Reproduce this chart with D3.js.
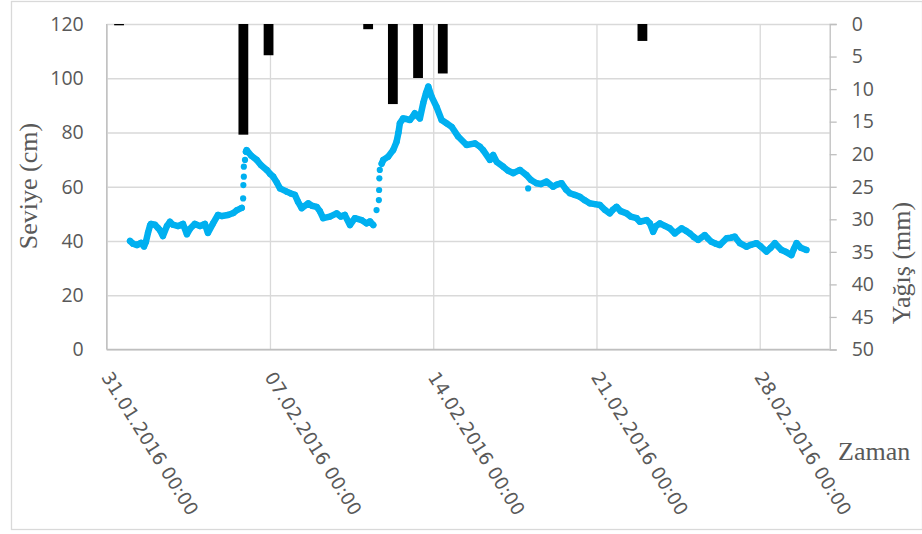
<!DOCTYPE html>
<html>
<head>
<meta charset="utf-8">
<script src="https://cdn.jsdelivr.net/npm/d3@7"></script>
<style>
  body { margin: 0; background: #fff; }
  svg { display: block; }
</style>
</head>
<body>
<svg id="chart"></svg>
<script>
var W = 922, H = 534;

// times are days after 31.01.2016 00:00
var startDate = new Date(2016, 0, 31);
var endDate = new Date(2016, 2, 2);
var dateTickLabels = ["31.01.2016 00:00", "07.02.2016 00:00", "14.02.2016 00:00", "21.02.2016 00:00", "28.02.2016 00:00"];
var levelTicks = [0, 20, 40, 60, 80, 100, 120];
var rainTicks = [0, 5, 10, 15, 20, 25, 30, 35, 40, 45, 50];

// rainfall (mm)
var rainDay = [0.53, 5.86, 6.94, 11.21, 12.27, 13.35, 14.41, 22.97];
var rainMm  = [0.2, 17.0, 4.8, 0.8, 12.3, 8.3, 7.6, 2.6];

// water level (cm) - base period before first event
var levelBase = [[1.00,40],[1.13,39],[1.30,38.5],[1.47,39.3],[1.60,38],[1.68,39.6],[1.77,43],[1.86,45.8],
  [1.90,46.3],[2.07,46],[2.20,44.8],[2.28,44],[2.41,41.8],[2.58,45.5],[2.71,47.1],[2.84,46],[3.06,45.5],
  [3.27,46.3],[3.44,42.5],[3.57,44.5],[3.78,46.3],[4.00,45.5],[4.21,46.3],[4.34,43],[4.56,46.5],[4.77,49.6],
  [4.94,49.2],[5.20,49.6],[5.43,50.3],[5.59,51.4],[5.79,52.2]];
// readings during the first rise
var levelRise1 = [[5.85,55.7],[5.86,60.6],[5.88,63.7],[5.88,67.4],[5.93,69.9]];
var levelFall1 = [[5.97,72.9],[6.00,73.5],[6.19,71.5],[6.43,69.9],[6.61,68],[6.86,66.2],[7.00,64.8],[7.14,63.7],
  [7.30,61.5],[7.43,59.4],[7.72,58.2],[7.90,57.5],[8.07,57],[8.20,54.5],[8.36,52.1],[8.64,53.9],[8.80,53],
  [9.00,52.6],[9.14,51],[9.28,48.4],[9.57,49],[9.86,50.2],[10.04,49],[10.21,49.6],[10.43,45.9],[10.64,48.4],
  [10.93,47.7],[11.14,46.5],[11.29,47.2],[11.43,45.9]];
// readings during the second rise
var levelRise2 = [[11.57,51.4],[11.67,55.1],[11.68,58.8],[11.69,63.1],[11.71,66.2]];
var levelFall2 = [[11.79,68.5],[11.86,69.9],[12.07,71.1],[12.28,73.5],[12.43,76.6],[12.51,80],[12.57,83.4],
  [12.71,85.2],[12.83,85],[13.00,84.6],[13.13,86],[13.21,87.1],[13.34,86],[13.43,85.2],[13.57,90.8],
  [13.69,94.5],[13.79,96.9],[13.93,93.2],[14.14,89.5],[14.36,84.6],[14.57,83.4],[14.79,82.1],[15.07,78.5],
  [15.43,75.4],[15.79,76],[16.00,74.8],[16.14,73.5],[16.43,69.9],[16.57,71.7],[16.72,69.2],[17.00,67.4],
  [17.20,66],[17.43,65],[17.72,66.2],[18.00,64.3],[18.19,62.5],[18.43,61.3],[18.62,61],[18.86,61.9],
  [19.14,60],[19.30,60.8],[19.50,61.3],[19.69,59],[19.86,57.6],[20.07,57],[20.29,56.3],[20.50,55],
  [20.71,53.9],[20.93,53.6],[21.14,53.3],[21.36,51.5],[21.57,50.2],[21.70,51.5],[21.86,52.6],[22.04,51],
  [22.29,50.2],[22.47,49],[22.72,48.4],[22.86,47.1],[23.15,47.7],[23.29,46.5],[23.43,43.4],[23.55,45.5],
  [23.72,46.5],[23.93,45.6],[24.14,44.7],[24.36,42.8],[24.65,44.7],[24.83,43.8],[25.00,42.8],[25.17,41.5],
  [25.36,40.4],[25.64,42.2],[25.77,41],[25.93,39.7],[26.12,39],[26.29,38.5],[26.58,41],[26.76,41.2],
  [26.93,41.6],[27.15,39.2],[27.43,37.9],[27.62,38.6],[27.86,39.2],[28.04,38],[28.29,36.1],[28.47,37.5],
  [28.65,39.2],[28.93,36.7],[29.12,36],[29.36,34.8],[29.46,37],[29.58,39.2],[29.76,37.5],[30.00,36.7]];
var levelOutlier = [[18.07,59.4]];

function toDate(d) { return new Date(startDate.getTime() + d * 864e5); }

var plot = { left: 106.7, right: 829.7, top: 24, bottom: 349.5 };
var blue = "#00b0f0";
var grid = "#d9d9d9";
var textGray = "#595959";

var svg = d3.select("#chart").attr("width", W).attr("height", H);

// chart border
svg.append("rect")
  .attr("x", 11.5).attr("y", 1.5)
  .attr("width", W - 11).attr("height", 528)
  .attr("fill", "#fff")
  .attr("stroke", grid)
  .attr("stroke-width", 1.3);

var x = d3.scaleTime().domain([startDate, endDate]).range([plot.left, plot.right]);
var y = d3.scaleLinear().domain([0, 120]).range([plot.bottom, plot.top]);
var yR = d3.scaleLinear().domain([0, 50]).range([plot.top, plot.bottom]);

var tickDates = dateTickLabels.map(function(s, i) { return d3.timeDay.offset(startDate, 7 * i); });

// horizontal grid
svg.append("g")
  .attr("class", "grid")
  .attr("transform", "translate(" + plot.left + ",0)")
  .call(d3.axisLeft(y).tickValues(levelTicks).tickSize(-(plot.right - plot.left)).tickFormat(""))
  .call(function(g) { g.select(".domain").remove(); });

// vertical grid
svg.append("g")
  .attr("class", "grid")
  .attr("transform", "translate(0," + plot.bottom + ")")
  .call(d3.axisBottom(x).tickValues(tickDates).tickSize(-(plot.bottom - plot.top)).tickFormat(""))
  .call(function(g) { g.select(".domain").remove(); });

svg.selectAll(".grid line")
  .style("stroke", grid)
  .style("stroke-width", 1.3);

// bottom + left axis lines
svg.append("line")
  .attr("x1", plot.left).attr("x2", plot.right)
  .attr("y1", plot.bottom).attr("y2", plot.bottom)
  .attr("stroke", "#bfbfbf").attr("stroke-width", 1.3);
svg.append("line")
  .attr("x1", plot.left).attr("x2", plot.left)
  .attr("y1", plot.top).attr("y2", plot.bottom)
  .attr("stroke", "#bfbfbf").attr("stroke-width", 1.3);

// left axis labels
var yAxis = svg.append("g")
  .attr("transform", "translate(" + plot.left + ",0)")
  .call(d3.axisLeft(y).tickValues(levelTicks).tickSize(0).tickPadding(23));
yAxis.select(".domain").remove();
yAxis.selectAll("text")
  .attr("fill", textGray)
  .style("font-family", "'Open Sans', sans-serif")
  .style("font-size", "19.5px");

// right axis
var yRAxis = svg.append("g")
  .attr("transform", "translate(" + plot.right + ",0)")
  .call(d3.axisRight(yR).tickValues(rainTicks).tickSize(7).tickPadding(15));
yRAxis.select(".domain").attr("stroke", "#bfbfbf").attr("stroke-width", 1.3);
yRAxis.selectAll("line").attr("stroke", "#bfbfbf").attr("stroke-width", 1.3);
yRAxis.selectAll("text")
  .attr("fill", textGray)
  .style("font-family", "'Open Sans', sans-serif")
  .style("font-size", "19.5px");

// date labels
svg.append("g")
  .selectAll("text")
  .data(dateTickLabels)
  .enter()
  .append("text")
  .attr("transform", function(d, i) { return "translate(" + (x(tickDates[i]) - 6) + ",377) rotate(58)"; })
  .attr("text-anchor", "start")
  .attr("fill", textGray)
  .style("font-family", "'DejaVu Sans', sans-serif")
  .style("font-size", "18.5px")
  .text(function(d) { return d; });

// rainfall bars hanging from top
var barW = x(toDate(0.42)) - x(startDate);
svg.append("g")
  .selectAll("rect")
  .data(rainDay)
  .enter()
  .append("rect")
  .attr("x", function(d) { return x(toDate(d)) - barW / 2; })
  .attr("y", yR(0))
  .attr("width", barW)
  .attr("height", function(d, i) { return yR(rainMm[i]) - yR(0); })
  .attr("fill", "#000");

// water level trace
var line = d3.line()
  .x(function(d) { return x(toDate(d[0])); })
  .y(function(d) { return y(d[1]); });

[levelBase, levelFall1, levelFall2].forEach(function(seg) {
  svg.append("path")
    .datum(seg)
    .attr("d", line)
    .attr("fill", "none")
    .attr("stroke", blue)
    .attr("stroke-width", 6.5)
    .attr("stroke-linejoin", "round")
    .attr("stroke-linecap", "round");
});

var allLevel = [].concat(levelBase, levelRise1, levelFall1, levelRise2, levelFall2, levelOutlier);
svg.append("g")
  .selectAll("circle")
  .data(allLevel)
  .enter()
  .append("circle")
  .attr("cx", function(d) { return x(toDate(d[0])); })
  .attr("cy", function(d) { return y(d[1]); })
  .attr("r", 3.1)
  .attr("fill", blue);

// axis titles
svg.append("text")
  .attr("transform", "translate(37,186) rotate(-90)")
  .attr("text-anchor", "middle")
  .attr("fill", textGray)
  .style("font-family", "'Liberation Serif', serif")
  .style("font-size", "26px")
  .text("Seviye (cm)");

svg.append("text")
  .attr("transform", "translate(910,263) rotate(-90)")
  .attr("text-anchor", "middle")
  .attr("fill", textGray)
  .style("font-family", "'Liberation Serif', serif")
  .style("font-size", "26px")
  .text("Yağış (mm)");

svg.append("text")
  .attr("x", 838)
  .attr("y", 460)
  .attr("fill", textGray)
  .style("font-family", "'Liberation Serif', serif")
  .style("font-size", "26px")
  .text("Zaman");
</script>
</body>
</html>
